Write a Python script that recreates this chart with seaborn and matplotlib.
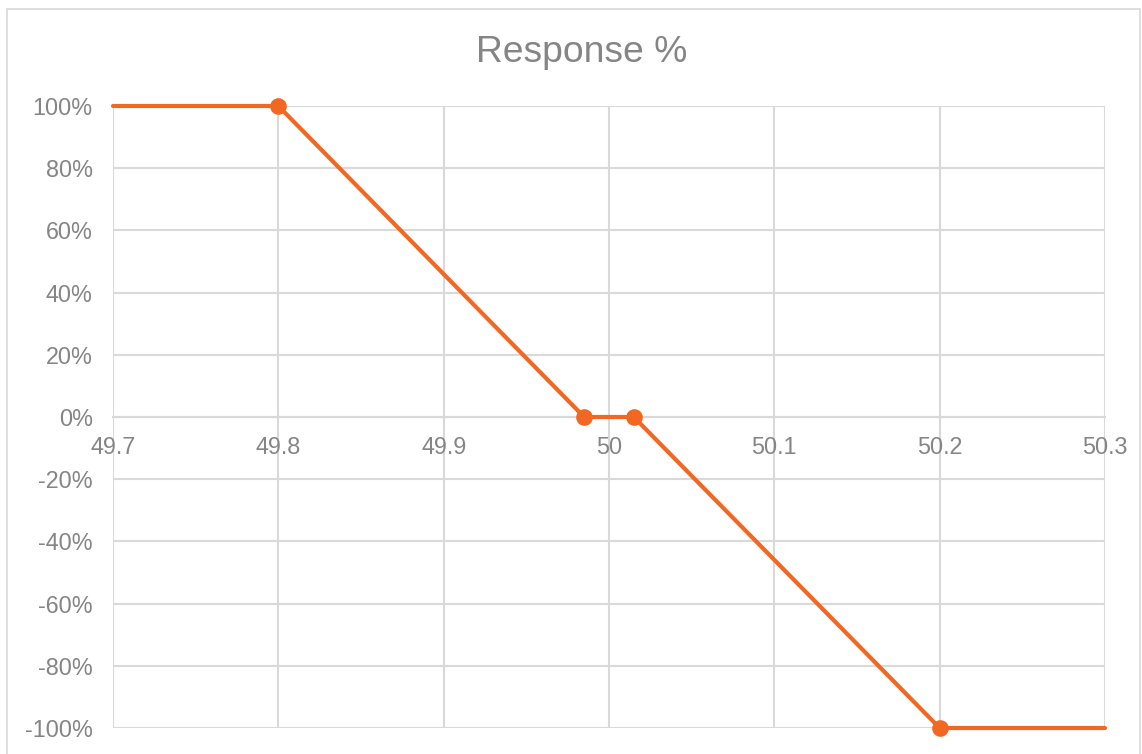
import matplotlib
matplotlib.use("Agg")
import matplotlib.pyplot as plt
import seaborn as sns
import pandas as pd
from matplotlib.patches import Rectangle

# Data
frequency = [49.7, 49.8, 49.985, 50.015, 50.2, 50.3]
response = [1.0, 1.0, 0.0, 0.0, -1.0, -1.0]
marker_idx = [1, 2, 3, 4]
x_ticks = [49.7, 49.8, 49.9, 50.0, 50.1, 50.2, 50.3]
x_labels = ["49.7", "49.8", "49.9", "50", "50.1", "50.2", "50.3"]
y_ticks = [-1.0, -0.8, -0.6, -0.4, -0.2, 0.0, 0.2, 0.4, 0.6, 0.8, 1.0]
y_labels = ["-100%", "-80%", "-60%", "-40%", "-20%", "0%", "20%", "40%", "60%", "80%", "100%"]
title = "Response %"

sns.set_style("white")
plt.rcParams['font.family'] = ['Liberation Sans', 'DejaVu Sans']

W, H = 1142, 754
fig = plt.figure(figsize=(W / 100, H / 100), dpi=100)
ax = fig.add_axes([113 / W, 1 - 728 / H, (1105 - 113) / W, (728 - 106) / H])

df = pd.DataFrame({"f": frequency, "r": response})
line_color = "#F26722"
grid_color = "#d9d9d9"
text_color = "#858585"

sns.lineplot(data=df, x="f", y="r", ax=ax, color=line_color, linewidth=3,
             marker="o", markersize=12, markevery=marker_idx, markeredgewidth=0,
             sort=False, zorder=5, clip_on=False)

ax.set_xlim(49.7, 50.3)
ax.set_ylim(-1.0, 1.0)
ax.set_xticks(x_ticks)
ax.set_xticklabels(x_labels)
ax.set_yticks(y_ticks)
ax.set_yticklabels(y_labels)
ax.set_xlabel("")
ax.set_ylabel("")
ax.grid(True, color=grid_color, linewidth=1.5)
ax.set_axisbelow(True)

for s in ["top", "right", "left"]:
    ax.spines[s].set_visible(False)
ax.spines["bottom"].set_position(("data", 0))
ax.spines["bottom"].set_color(grid_color)
ax.spines["bottom"].set_linewidth(1.5)

ax.tick_params(axis="both", length=0, labelsize=16.8, colors=text_color)
ax.tick_params(axis="x", pad=14)
ax.tick_params(axis="y", pad=14.5)

fig.text(582 / W, 1 - 53 / H, title, ha="center", va="center", fontsize=26.8, color=text_color)

fig.patches.append(Rectangle((7 / W, -0.01), (1140 - 7) / W, 1 - 9 / H + 0.01,
                             transform=fig.transFigure, fill=False,
                             edgecolor=grid_color, linewidth=1.2))

fig.savefig("out.png", dpi=100)
